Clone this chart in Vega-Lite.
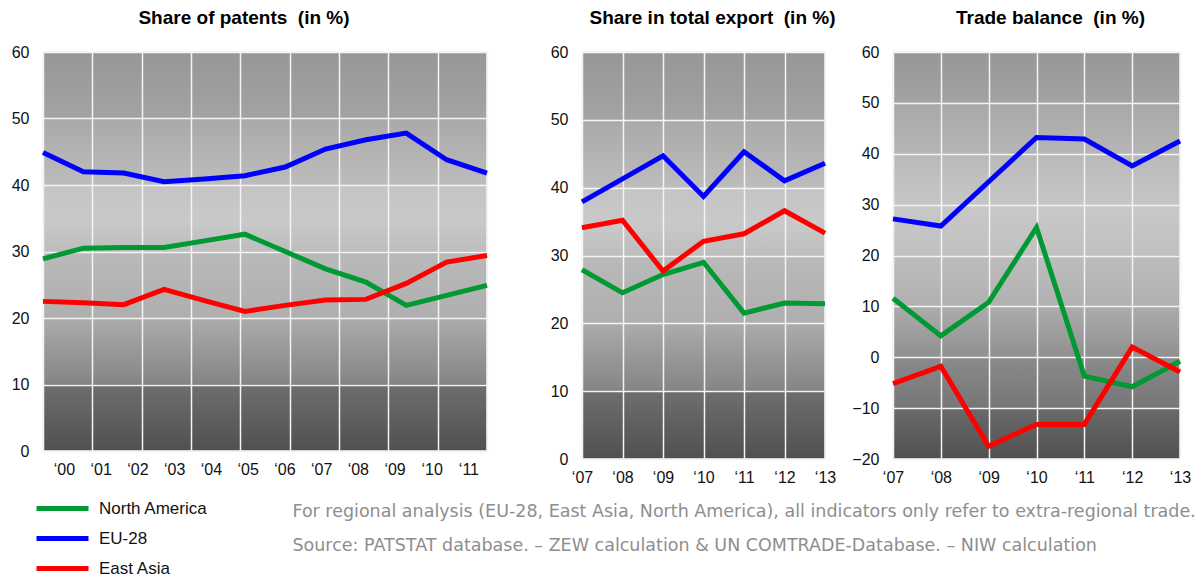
{
  "$schema": "https://vega.github.io/schema/vega-lite/v6.json",
  "background": "white",
  "padding": {"left": 10, "top": 8, "right": 5, "bottom": 0},
  "datasets": {
    "patents": [
      {"year": 2000, "region": "EU-28", "value": 44.9},
      {"year": 2001, "region": "EU-28", "value": 42.0},
      {"year": 2002, "region": "EU-28", "value": 41.8},
      {"year": 2003, "region": "EU-28", "value": 40.5},
      {"year": 2004, "region": "EU-28", "value": 40.9},
      {"year": 2005, "region": "EU-28", "value": 41.4},
      {"year": 2006, "region": "EU-28", "value": 42.7},
      {"year": 2007, "region": "EU-28", "value": 45.4},
      {"year": 2008, "region": "EU-28", "value": 46.8},
      {"year": 2009, "region": "EU-28", "value": 47.8},
      {"year": 2010, "region": "EU-28", "value": 43.8},
      {"year": 2011, "region": "EU-28", "value": 41.8},
      {"year": 2000, "region": "North America", "value": 28.9},
      {"year": 2001, "region": "North America", "value": 30.5},
      {"year": 2002, "region": "North America", "value": 30.6},
      {"year": 2003, "region": "North America", "value": 30.6},
      {"year": 2004, "region": "North America", "value": 31.6},
      {"year": 2005, "region": "North America", "value": 32.6},
      {"year": 2006, "region": "North America", "value": 30.0},
      {"year": 2007, "region": "North America", "value": 27.4},
      {"year": 2008, "region": "North America", "value": 25.4},
      {"year": 2009, "region": "North America", "value": 21.9},
      {"year": 2010, "region": "North America", "value": 23.4},
      {"year": 2011, "region": "North America", "value": 24.9},
      {"year": 2000, "region": "East Asia", "value": 22.5},
      {"year": 2001, "region": "East Asia", "value": 22.3},
      {"year": 2002, "region": "East Asia", "value": 22.0},
      {"year": 2003, "region": "East Asia", "value": 24.3},
      {"year": 2004, "region": "East Asia", "value": 22.6},
      {"year": 2005, "region": "East Asia", "value": 21.0},
      {"year": 2006, "region": "East Asia", "value": 21.9},
      {"year": 2007, "region": "East Asia", "value": 22.7},
      {"year": 2008, "region": "East Asia", "value": 22.8},
      {"year": 2009, "region": "East Asia", "value": 25.2},
      {"year": 2010, "region": "East Asia", "value": 28.4},
      {"year": 2011, "region": "East Asia", "value": 29.4}
    ],
    "export": [
      {"year": 2007, "region": "EU-28", "value": 37.9},
      {"year": 2008, "region": "EU-28", "value": 41.3},
      {"year": 2009, "region": "EU-28", "value": 44.7},
      {"year": 2010, "region": "EU-28", "value": 38.7},
      {"year": 2011, "region": "EU-28", "value": 45.3},
      {"year": 2012, "region": "EU-28", "value": 41.0},
      {"year": 2013, "region": "EU-28", "value": 43.6},
      {"year": 2007, "region": "North America", "value": 27.9},
      {"year": 2008, "region": "North America", "value": 24.5},
      {"year": 2009, "region": "North America", "value": 27.2},
      {"year": 2010, "region": "North America", "value": 29.0},
      {"year": 2011, "region": "North America", "value": 21.5},
      {"year": 2012, "region": "North America", "value": 23.0},
      {"year": 2013, "region": "North America", "value": 22.9},
      {"year": 2007, "region": "East Asia", "value": 34.1},
      {"year": 2008, "region": "East Asia", "value": 35.2},
      {"year": 2009, "region": "East Asia", "value": 27.7},
      {"year": 2010, "region": "East Asia", "value": 32.1},
      {"year": 2011, "region": "East Asia", "value": 33.2},
      {"year": 2012, "region": "East Asia", "value": 36.6},
      {"year": 2013, "region": "East Asia", "value": 33.3}
    ],
    "balance": [
      {"year": 2007, "region": "EU-28", "value": 27.2},
      {"year": 2008, "region": "EU-28", "value": 25.8},
      {"year": 2009, "region": "EU-28", "value": 34.5},
      {"year": 2010, "region": "EU-28", "value": 43.2},
      {"year": 2011, "region": "EU-28", "value": 42.9},
      {"year": 2012, "region": "EU-28", "value": 37.6},
      {"year": 2013, "region": "EU-28", "value": 42.5},
      {"year": 2007, "region": "North America", "value": 11.6},
      {"year": 2008, "region": "North America", "value": 4.2},
      {"year": 2009, "region": "North America", "value": 10.8},
      {"year": 2010, "region": "North America", "value": 25.5},
      {"year": 2011, "region": "North America", "value": -3.7},
      {"year": 2012, "region": "North America", "value": -5.8},
      {"year": 2013, "region": "North America", "value": -0.8},
      {"year": 2007, "region": "East Asia", "value": -5.2},
      {"year": 2008, "region": "East Asia", "value": -1.8},
      {"year": 2009, "region": "East Asia", "value": -17.5},
      {"year": 2010, "region": "East Asia", "value": -13.2},
      {"year": 2011, "region": "East Asia", "value": -13.2},
      {"year": 2012, "region": "East Asia", "value": 2.0},
      {"year": 2013, "region": "East Asia", "value": -2.9}
    ]
  },
  "spacing": 95,
  "bounds": "flush",
  "hconcat": [
    {
      "title": {"text": "Share of patents\u00a0 (in %)", "dx": -21},
      "width": 444,
      "height": 399,
      "data": {"name": "patents"},
      "layer": [
        {
          "mark": {"type": "line", "opacity": 0, "strokeWidth": 0},
          "encoding": {
            "x": {
              "field": "year", "type": "quantitative",
              "scale": {"domain": [2000, 2011], "nice": false, "zero": false},
              "axis": {
                "orient": "bottom",
                "values": [2000, 2001.2222, 2002.4444, 2003.6667, 2004.8889, 2006.1111, 2007.3333, 2008.5556, 2009.7778, 2011],
                "labels": false, "grid": true, "title": null
              }
            },
            "y": {
              "field": "value", "type": "quantitative",
              "scale": {"domain": [0, 60], "nice": false},
              "axis": {"values": [0, 10, 20, 30, 40, 50, 60], "title": null}
            },
            "detail": {"field": "region"}
          }
        },
        {
          "mark": {"type": "line", "strokeWidth": 5},
          "encoding": {
            "x": {
              "field": "year", "type": "quantitative",
              "axis": {
                "orient": "bottom",
                "values": [2000.52, 2001.43, 2002.34, 2003.25, 2004.16, 2005.07, 2005.98, 2006.89, 2007.8, 2008.71, 2009.63, 2010.54],
                "labelExpr": "'‘' + slice(toString(2000 + round((datum.value - 2000.52) / 0.9106)), 2)",
                "grid": false, "title": null
              }
            },
            "y": {"field": "value", "type": "quantitative"},
            "color": {
              "field": "region", "type": "nominal",
              "scale": {"domain": ["North America", "EU-28", "East Asia"], "range": ["#009933", "#0000ff", "#ff0000"]},
              "legend": {
                "orient": "none", "legendX": 4, "legendY": 441, "title": null,
                "symbolType": "M-2,0L2,0", "symbolSize": 676, "symbolStrokeWidth": 5,
                "labelFontSize": 17, "labelColor": "#111111", "labelOffset": 21,
                "rowPadding": 4
              }
            }
          }
        }
      ],
      "resolve": {"axis": {"x": "independent"}}
    },
    {
      "title": {
        "text": [
          "For regional analysis (EU-28, East Asia, North America), all indicators only refer to extra-regional trade.",
          "Source: PATSTAT database. – ZEW calculation & UN COMTRADE-Database. – NIW calculation"
        ],
        "orient": "bottom",
        "anchor": "start",
        "font": "DejaVu Sans",
        "fontSize": 17.5,
        "fontWeight": "normal",
        "color": "#8e8e8e",
        "lineHeight": 34,
        "dx": -257,
        "offset": 17
      },
      "spacing": 68,
      "bounds": "flush",
      "hconcat": [
        {
          "title": {"text": "Share in total export\u00a0 (in %)", "dx": 9},
          "width": 243,
          "height": 407,
          "data": {"name": "export"},
          "view": {
            "fill": {
              "gradient": "linear", "x1": 0, "y1": 0, "x2": 0, "y2": 1,
              "stops": [
                {"offset": 0, "color": "#979797"},
                {"offset": 0.165, "color": "#a3a3a3"},
                {"offset": 0.168, "color": "#a9a9a9"},
                {"offset": 0.33, "color": "#bcbcbc"},
                {"offset": 0.335, "color": "#c4c4c4"},
                {"offset": 0.42, "color": "#c9c9c9"},
                {"offset": 0.5, "color": "#bdbdbd"},
                {"offset": 0.505, "color": "#b9b9b9"},
                {"offset": 0.665, "color": "#afafaf"},
                {"offset": 0.67, "color": "#ababab"},
                {"offset": 0.83, "color": "#858585"},
                {"offset": 0.835, "color": "#6e6e6e"},
                {"offset": 1, "color": "#505050"}
              ]
            },
            "stroke": "#f4f4f4",
            "strokeWidth": 1.5
          },
          "mark": {"type": "line", "strokeWidth": 5},
          "encoding": {
            "x": {
              "field": "year", "type": "quantitative",
              "scale": {"domain": [2007, 2013], "nice": false, "zero": false},
              "axis": {
                "values": [2007, 2008, 2009, 2010, 2011, 2012, 2013],
                "labelExpr": "'‘' + slice(toString(datum.value), 2)",
                "grid": true, "title": null
              }
            },
            "y": {
              "field": "value", "type": "quantitative",
              "scale": {"domain": [0, 60], "nice": false},
              "axis": {"values": [0, 10, 20, 30, 40, 50, 60], "title": null}
            },
            "color": {"field": "region", "type": "nominal"}
          }
        },
        {
          "title": {"text": "Trade balance\u00a0 (in %)", "dx": 14},
          "width": 287,
          "height": 407,
          "data": {"name": "balance"},
          "view": {
            "fill": {
              "gradient": "linear", "x1": 0, "y1": 0, "x2": 0, "y2": 1,
              "stops": [
                {"offset": 0, "color": "#979797"},
                {"offset": 0.124, "color": "#a3a3a3"},
                {"offset": 0.126, "color": "#a8a8a8"},
                {"offset": 0.249, "color": "#b5b5b5"},
                {"offset": 0.251, "color": "#b9b9b9"},
                {"offset": 0.374, "color": "#c6c6c6"},
                {"offset": 0.376, "color": "#c9c9c9"},
                {"offset": 0.499, "color": "#c0c0c0"},
                {"offset": 0.501, "color": "#bdbdbd"},
                {"offset": 0.624, "color": "#b0b0b0"},
                {"offset": 0.626, "color": "#acacac"},
                {"offset": 0.749, "color": "#909090"},
                {"offset": 0.751, "color": "#8a8a8a"},
                {"offset": 0.874, "color": "#767676"},
                {"offset": 0.876, "color": "#6a6a6a"},
                {"offset": 1, "color": "#505050"}
              ]
            },
            "stroke": "#f4f4f4",
            "strokeWidth": 1.5
          },
          "mark": {"type": "line", "strokeWidth": 5},
          "encoding": {
            "x": {
              "field": "year", "type": "quantitative",
              "scale": {"domain": [2007, 2013], "nice": false, "zero": false},
              "axis": {
                "values": [2007, 2008, 2009, 2010, 2011, 2012, 2013],
                "labelExpr": "'‘' + slice(toString(datum.value), 2)",
                "grid": true, "title": null
              }
            },
            "y": {
              "field": "value", "type": "quantitative",
              "scale": {"domain": [-20, 60], "nice": false},
              "axis": {"values": [-20, -10, 0, 10, 20, 30, 40, 50, 60], "title": null}
            },
            "color": {"field": "region", "type": "nominal"}
          }
        }
      ]
    }
  ],
  "resolve": {"scale": {"color": "shared"}},
  "config": {
    "font": "Liberation Sans",
    "view": {
      "fill": {
        "gradient": "linear", "x1": 0, "y1": 0, "x2": 0, "y2": 1,
        "stops": [
          {"offset": 0, "color": "#979797"},
          {"offset": 0.165, "color": "#a3a3a3"},
          {"offset": 0.168, "color": "#a9a9a9"},
          {"offset": 0.33, "color": "#bcbcbc"},
          {"offset": 0.335, "color": "#c4c4c4"},
          {"offset": 0.42, "color": "#c9c9c9"},
          {"offset": 0.5, "color": "#bdbdbd"},
          {"offset": 0.505, "color": "#b9b9b9"},
          {"offset": 0.665, "color": "#afafaf"},
          {"offset": 0.67, "color": "#ababab"},
          {"offset": 0.83, "color": "#858585"},
          {"offset": 0.835, "color": "#6e6e6e"},
          {"offset": 1, "color": "#505050"}
        ]
      },
      "stroke": "#f4f4f4",
      "strokeWidth": 1.5
    },
    "title": {"font": "Liberation Sans", "fontSize": 19, "fontWeight": "bold", "color": "#000000", "offset": 16, "anchor": "middle"},
    "axis": {
      "domain": false, "ticks": false, "gridColor": "#f4f4f4", "gridWidth": 1.5, "gridOpacity": 1,
      "labelFont": "Liberation Sans", "labelFontSize": 16, "labelColor": "#111111",
      "labelFlush": false, "labelOverlap": false
    },
    "axisY": {"labelPadding": 14},
    "axisX": {"labelPadding": 10}
  }
}
